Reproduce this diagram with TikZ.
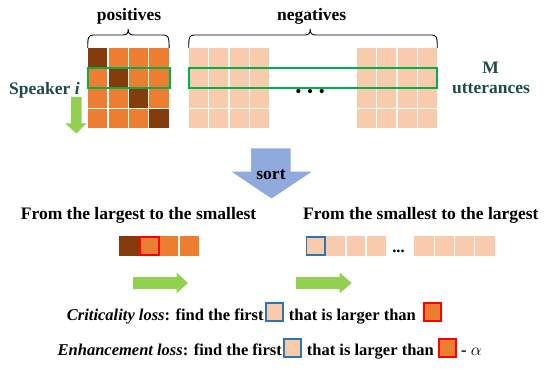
\documentclass[tikz,border=0pt]{standalone}
\usepackage{fontspec}
\setmainfont{Liberation Serif}
\definecolor{cOr}{HTML}{ED7D31}
\definecolor{cBr}{HTML}{843C0C}
\definecolor{cPe}{HTML}{F8CBAD}
\definecolor{cGa}{HTML}{92D050}
\definecolor{cGr}{HTML}{00B050}
\definecolor{cBl}{HTML}{2E75B6}
\definecolor{cRd}{HTML}{FF0000}
\definecolor{cSo}{HTML}{8FAADC}
\definecolor{cTe}{HTML}{1F4B4B}
\begin{document}
\begin{tikzpicture}[x=1pt,y=-1pt,
  font=\bfseries\fontsize{17.5}{21}\selectfont,
  txt/.style={inner sep=0pt},
  losstxt/.style={inner sep=0pt,font=\bfseries\fontsize{16.5}{20}\selectfont},
  gline/.style={white,line width=1.2pt},
  grect/.style={draw=cGr,line width=2pt},
  bluebox/.style={draw=cBl,fill=cPe,line width=1.6pt,minimum width=17pt,minimum height=18.5pt,inner sep=0pt},
  redbox/.style={draw=cRd,fill=cOr,line width=1.6pt,minimum width=17pt,minimum height=18.5pt,inner sep=0pt},
  bracestyle/.style={black,line width=0.9pt},
  garrow/.style={fill=cGa}]
\useasboundingbox (0,0) rectangle (550,369);

% positives grid
\fill[cOr] (87.7,48.3) rectangle (169.1,128.3);
\foreach \i in {0,...,3}{
  \fill[cBr] (87.7+\i*20.35,48.3+\i*20) rectangle ++(20.35,20);
}
\foreach \i in {1,2,3}{
  \draw[gline] (87.7+\i*20.35,48.3) -- ++(0,80);
  \draw[gline] (87.7,48.3+\i*20) -- ++(81.4,0);
}
% negatives grids
\fill[cPe] (188.5,48.3) rectangle (269.3,128.3);
\fill[cPe] (356.7,48.3) rectangle (437.3,128.3);
\foreach \i in {1,2,3}{
  \draw[gline] (188.5+\i*20.2,48.3) -- ++(0,80);
  \draw[gline] (356.7+\i*20.15,48.3) -- ++(0,80);
  \draw[gline] (188.5,48.3+\i*20) -- ++(80.8,0);
  \draw[gline] (356.7,48.3+\i*20) -- ++(80.6,0);
}
% green rectangles
\draw[grect] (87.7,68.3) rectangle (170,88.5);
\draw[grect] (188.5,68.3) rectangle (437.3,88.5);
% dots
\foreach \x in {298.3,310,321.7}{\fill (\x,91) circle (2.1);}

% braces
\draw[bracestyle] (87.7,48) .. controls (87.7,37) and (88.5,35) .. (93.5,35)
  -- (123,35) .. controls (127,35) and (128.2,33) .. (128.2,29)
  .. controls (128.2,33) and (129.4,35) .. (133.4,35)
  -- (163.3,35) .. controls (168.3,35) and (169.1,37) .. (169.1,48);
\draw[bracestyle] (188.7,48) .. controls (188.7,37) and (189.5,35) .. (194.5,35)
  -- (305,35) .. controls (309,35) and (310.2,33) .. (310.2,29)
  .. controls (310.2,33) and (311.4,35) .. (315.4,35)
  -- (431.5,35) .. controls (436.5,35) and (437.3,37) .. (437.3,48);

% labels top
\node[txt,anchor=base] (pos) at (129,21) {positives};
\node[txt,anchor=base] (neg) at (311.7,21) {negatives};
\node[txt,anchor=base,text=cTe] (m) at (490.7,73.3) {M};
\node[txt,anchor=base,text=cTe] (utt) at (491,94) {utterances};

% speaker arrow
\fill[garrow] (71,97) -- (81.7,97) -- (81.7,123.3) -- (86.5,123.3) -- (76.3,133.5)
  -- (65.2,123.3) -- (71,123.3) -- cycle;
\node[txt,anchor=base west,text=cTe] (spk) at (9,95) {Speaker \textit{i}};

% sort arrow
\fill[cSo] (251,148.3) -- (290.7,148.3) -- (290.7,171.7) -- (311.7,171.7)
  -- (271.5,198.5) -- (231.7,171.7) -- (251,171.7) -- cycle;
\node[txt,anchor=base] (sort) at (271,179.3) {sort};

% middle labels
\node[txt,anchor=base west] (l2s) at (20.7,219) {From the largest to the smallest};
\node[txt,anchor=base west] (s2l) at (303,219) {From the smallest to the largest};

% left bar
\fill[cBr] (119,236) rectangle (139,256);
\fill[cOr] (139,236) rectangle (199,256);
\draw[gline] (159,236) -- (159,256);
\draw[gline] (179,236) -- (179,256);
\draw[draw=cRd,line width=1.6pt] (139.8,236.8) rectangle (158.7,255.2);

% right bar
\fill[cPe] (305.7,236) rectangle (386,256);
\fill[cPe] (414,236) rectangle (495,256);
\foreach \i in {1,2,3}{
  \draw[gline] (305.7+\i*20.1,236) -- ++(0,20);
  \draw[gline] (414+\i*20.25,236) -- ++(0,20);
}
\draw[draw=cBl,line width=1.6pt] (306.5,236.8) rectangle (325.2,255.2);
\node[losstxt,anchor=base] (bdots) at (398.5,252.7) {...};

% green right arrows
\fill[garrow] (133,277) -- (176.7,277) -- (176.7,272.7) -- (188,283) -- (176.7,293.3)
  -- (176.7,289) -- (133,289) -- cycle;
\fill[garrow] (296,277) -- (339.7,277) -- (339.7,272.7) -- (351.7,283) -- (339.7,293.3)
  -- (339.7,289) -- (296,289) -- cycle;

% criticality loss line
\node[losstxt,anchor=base east] (crit) at (263.8,320) {\textit{Criticality loss}: find the first};
\node[bluebox] (cb) at (274.2,312) {};
\node[losstxt,anchor=base west] (crit2) at (288.7,320) {that is larger than};
\node[redbox] (cr) at (432.2,312) {};

% enhancement loss line
\node[losstxt,anchor=base east] (enh) at (282,355) {\textit{Enhancement loss}: find the first};
\node[bluebox] (eb) at (292.7,348) {};
\node[losstxt,anchor=base west] (enh2) at (306.7,355) {that is larger than};
\node[redbox] (er) at (447.2,348) {};
\node[losstxt,anchor=base west] (alpha) at (461,355) {- $\alpha$};
\end{tikzpicture}
\end{document}
